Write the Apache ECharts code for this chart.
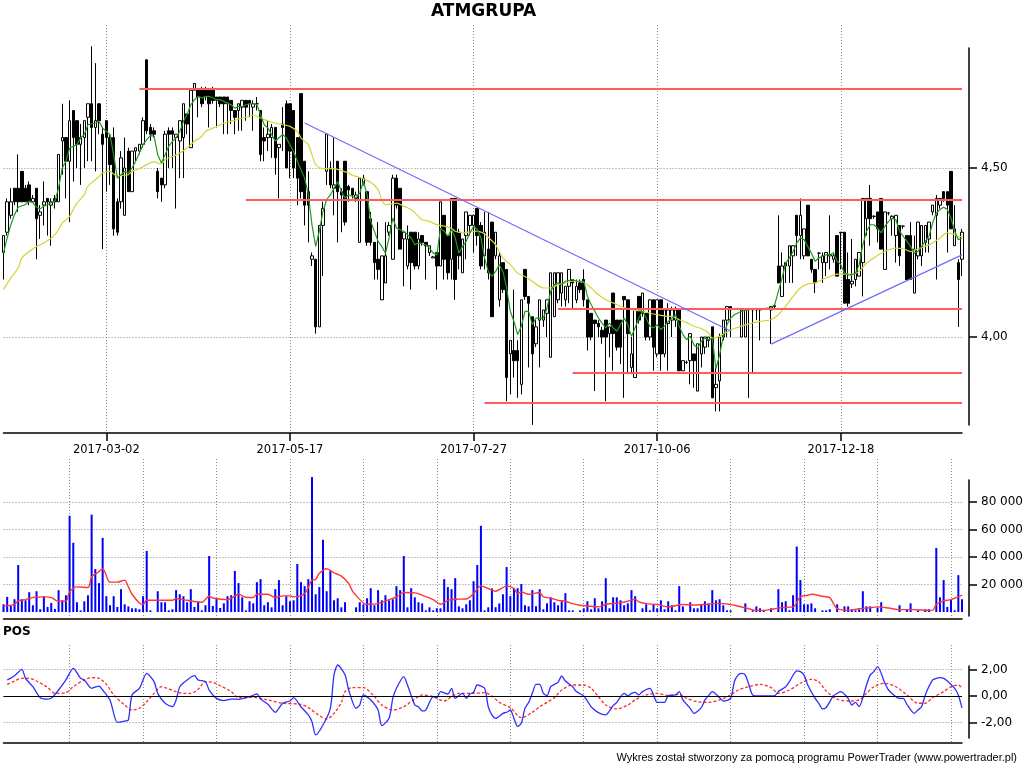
<!DOCTYPE html>
<html><head><meta charset="utf-8">
<script src="https://cdn.jsdelivr.net/npm/echarts@6/dist/echarts.min.js"></script>
<style>html,body{margin:0;padding:0;background:#fff}#c{width:1024px;height:768px}</style>
</head><body><div id="c"></div>
<script>
const labelIdx = [28, 78, 128, 178, 228];
const labelText = ['2017-03-02','2017-05-17','2017-07-27','2017-10-06','2017-12-18'];
const volGridIdx = [18,38,58,78,98,118,138,158,178,198,218,238,258];
const priceTicks = [4.0, 4.5];
const volTicks = [20000, 40000, 60000, 80000];
const posTicks = [-2, 0, 2];

const opens = [
4.25,4.31,4.36,4.44,4.44,4.49,4.44,4.45,4.40,4.44,
4.36,4.39,4.41,4.39,4.41,4.40,4.58,4.59,4.52,4.67,
4.64,4.57,4.59,4.65,4.69,4.62,4.69,4.60,4.64,4.59,
4.59,4.40,4.40,4.36,4.55,4.43,4.55,4.55,4.57,4.82,
4.62,4.61,4.49,4.47,4.45,4.61,4.61,4.59,4.58,4.59,
4.66,4.56,4.73,4.73,4.73,4.73,4.73,4.73,4.71,4.71,
4.71,4.71,4.70,4.67,4.67,4.68,4.70,4.70,4.68,4.69,
4.67,4.59,4.59,4.59,4.62,4.56,4.63,4.69,4.69,4.67,
4.59,4.72,4.52,4.43,4.23,4.23,4.03,4.33,4.49,4.50,
4.44,4.52,4.43,4.52,4.445,4.44,4.41,4.28,4.45,4.43,
4.35,4.28,4.23,4.11,4.16,4.31,4.23,4.47,4.44,4.29,
4.21,4.31,4.31,4.21,4.30,4.28,4.25,4.234,4.25,4.21,
4.36,4.30,4.23,4.41,4.31,4.19,4.30,4.33,4.33,4.38,
4.33,4.24,4.26,4.34,4.24,4.11,4.22,4.20,3.95,3.96,
3.96,3.86,4.20,4.12,4.06,3.98,4.05,4.05,4.07,3.94,
4.06,4.11,4.13,4.11,4.15,4.17,4.11,4.16,4.17,4.11,
4.07,4.05,4.04,4.02,4.05,4.01,4.13,4.05,4.05,4.12,
4.11,3.91,3.88,4.12,4.07,4.07,4.00,4.11,3.95,4.11,
3.95,4.04,4.05,4.05,4.08,3.90,3.925,3.93,3.95,3.84,
3.95,3.97,3.99,4.03,3.85,3.87,4.00,4.05,4.09,4.084,
4.084,4.00,4.00,4.084,4.08,4.08,4.08,4.084,4.084,4.08,
4.09,4.21,4.12,4.21,4.21,4.24,4.36,4.30,4.24,4.39,
4.23,4.20,4.248,4.22,4.22,4.24,4.23,4.30,4.31,4.31,
4.17,4.157,4.17,4.18,4.22,4.35,4.41,4.357,4.37,4.41,
4.20,4.367,4.35,4.30,4.33,4.328,4.30,4.30,4.13,4.24,
4.24,4.28,4.29,4.37,4.36,4.39,4.43,4.43,4.49,4.27,
4.22,4.23];
const closes = [
4.30,4.40,4.40,4.40,4.40,4.40,4.40,4.40,4.41,4.35,
4.37,4.40,4.40,4.40,4.40,4.54,4.59,4.52,4.64,4.59,
4.57,4.59,4.64,4.69,4.62,4.64,4.64,4.57,4.59,4.51,
4.32,4.31,4.53,4.50,4.43,4.55,4.56,4.57,4.64,4.61,
4.60,4.60,4.43,4.45,4.60,4.60,4.60,4.60,4.64,4.69,
4.63,4.73,4.75,4.71,4.69,4.71,4.69,4.70,4.70,4.69,
4.69,4.69,4.67,4.65,4.69,4.70,4.68,4.69,4.69,4.69,
4.54,4.58,4.60,4.62,4.53,4.57,4.62,4.50,4.55,4.50,
4.47,4.43,4.39,4.39,4.24,4.03,4.33,4.38,4.60,4.45,
4.45,4.43,4.42,4.34,4.435,4.42,4.42,4.47,4.47,4.28,
4.28,4.22,4.20,4.24,4.24,4.33,4.47,4.39,4.26,4.31,
4.29,4.22,4.21,4.29,4.28,4.27,4.27,4.237,4.21,4.40,
4.23,4.19,4.41,4.17,4.24,4.29,4.37,4.36,4.36,4.30,
4.21,4.31,4.19,4.06,4.31,4.24,4.14,3.88,3.99,3.93,
3.93,4.11,4.12,4.10,3.95,4.03,4.11,4.08,4.11,4.19,
4.19,4.19,4.19,4.15,4.20,4.16,4.15,4.14,4.11,4.00,
4.00,4.04,4.03,4.00,4.00,4.03,4.01,3.97,3.97,4.11,
4.01,3.95,4.08,4.05,4.13,4.00,4.11,3.97,4.11,3.95,
4.08,4.08,4.08,4.08,3.90,3.93,3.925,4.01,3.93,3.98,
4.00,4.00,4.00,3.82,3.86,4.00,4.05,4.09,4.08,4.084,
4.084,4.08,4.08,4.084,4.084,4.084,4.084,4.084,4.084,4.09,
4.093,4.16,4.21,4.22,4.27,4.27,4.30,4.36,4.32,4.24,
4.20,4.16,4.248,4.24,4.25,4.244,4.24,4.18,4.308,4.10,
4.10,4.165,4.23,4.25,4.41,4.41,4.35,4.357,4.32,4.26,
4.37,4.367,4.357,4.36,4.24,4.328,4.17,4.17,4.26,4.34,
4.33,4.33,4.34,4.39,4.41,4.41,4.41,4.39,4.32,4.32,
4.17,4.31];
const lows = [
4.17,4.30,4.35,4.39,4.37,4.40,4.40,4.39,4.40,4.23,
4.29,4.33,4.30,4.27,4.38,4.40,4.48,4.41,4.34,4.46,
4.50,4.45,4.50,4.52,4.52,4.49,4.60,4.26,4.43,4.45,
4.30,4.30,4.38,4.36,4.43,4.43,4.52,4.54,4.56,4.60,
4.58,4.59,4.41,4.40,4.44,4.50,4.50,4.38,4.47,4.47,
4.60,4.56,4.73,4.65,4.68,4.70,4.62,4.69,4.62,4.68,
4.60,4.60,4.63,4.60,4.61,4.61,4.64,4.65,4.61,4.67,
4.52,4.52,4.55,4.53,4.48,4.41,4.55,4.50,4.47,4.47,
4.39,4.41,4.33,4.28,4.21,4.01,4.03,4.18,4.45,4.44,
4.36,4.28,4.31,4.33,4.40,4.41,4.40,4.28,4.45,4.27,
4.27,4.17,4.17,4.11,4.16,4.30,4.23,4.38,4.26,4.15,
4.20,4.14,4.20,4.20,4.27,4.17,4.24,4.234,4.14,4.21,
4.17,4.17,4.17,4.11,4.20,4.19,4.23,4.30,4.25,4.27,
4.20,4.20,4.17,4.06,4.23,4.09,4.13,3.81,3.83,3.88,
3.82,3.83,4.11,3.91,3.74,3.97,3.91,4.03,4.00,3.94,
4.06,4.10,4.09,4.09,4.10,4.08,4.10,4.13,4.09,3.96,
3.99,3.84,4.00,3.98,3.81,3.94,3.90,3.96,3.92,3.82,
3.89,3.89,3.88,4.04,4.06,3.99,3.99,3.90,3.94,3.90,
3.94,3.90,4.00,4.03,3.90,3.90,3.92,3.86,3.85,3.84,
3.91,3.95,3.97,3.82,3.78,3.78,3.99,4.00,4.00,4.08,
4.08,4.00,4.00,3.82,3.89,4.05,3.99,4.08,4.08,3.98,
4.08,4.16,4.12,4.16,4.16,4.16,4.24,4.23,4.23,4.24,
4.19,4.13,4.20,4.16,4.18,4.20,4.22,4.18,4.20,4.10,
4.09,4.145,4.15,4.18,4.12,4.30,4.27,4.35,4.28,4.26,
4.20,4.36,4.30,4.22,4.21,4.32,4.17,4.17,4.13,4.23,
4.21,4.25,4.25,4.36,4.17,4.38,4.40,4.25,4.32,4.27,
4.03,4.18];
const highs = [
4.30,4.41,4.44,4.44,4.54,4.49,4.45,4.46,4.42,4.44,
4.39,4.46,4.41,4.41,4.42,4.54,4.69,4.59,4.70,4.67,
4.64,4.63,4.64,4.69,4.86,4.81,4.69,4.62,4.64,4.60,
4.62,4.41,4.55,4.59,4.56,4.55,4.56,4.57,4.65,4.82,
4.63,4.62,4.50,4.47,4.61,4.62,4.62,4.60,4.64,4.69,
4.66,4.73,4.75,4.73,4.74,4.74,4.73,4.74,4.71,4.71,
4.71,4.71,4.70,4.67,4.69,4.70,4.70,4.70,4.70,4.71,
4.67,4.62,4.64,4.63,4.62,4.57,4.68,4.70,4.69,4.67,
4.59,4.72,4.52,4.49,4.25,4.23,4.33,4.40,4.60,4.52,
4.59,4.52,4.44,4.52,4.45,4.44,4.43,4.47,4.48,4.43,
4.37,4.28,4.34,4.24,4.34,4.34,4.48,4.48,4.44,4.31,
4.33,4.31,4.31,4.31,4.30,4.28,4.27,4.24,4.25,4.40,
4.36,4.30,4.41,4.41,4.32,4.29,4.37,4.36,4.36,4.38,
4.34,4.37,4.37,4.34,4.31,4.25,4.22,4.20,3.99,4.14,
3.99,4.11,4.20,4.12,4.06,4.05,4.11,4.08,4.11,4.19,
4.19,4.19,4.19,4.15,4.20,4.17,4.17,4.17,4.20,4.11,
4.07,4.05,4.05,4.03,4.05,4.03,4.13,4.05,4.05,4.12,
4.11,4.00,4.08,4.12,4.13,4.07,4.11,4.11,4.11,4.11,
4.08,4.10,4.09,4.09,4.08,3.93,3.93,4.01,3.95,3.98,
4.00,4.00,4.00,4.03,3.91,4.01,4.05,4.09,4.09,4.086,
4.086,4.08,4.08,4.086,4.086,4.086,4.086,4.086,4.086,4.09,
4.095,4.36,4.25,4.22,4.27,4.27,4.36,4.41,4.32,4.39,
4.23,4.20,4.25,4.25,4.25,4.36,4.25,4.30,4.31,4.31,
4.25,4.29,4.23,4.25,4.41,4.41,4.45,4.36,4.37,4.41,
4.37,4.37,4.36,4.36,4.33,4.33,4.30,4.34,4.30,4.34,
4.33,4.33,4.34,4.39,4.42,4.41,4.43,4.43,4.49,4.39,
4.23,4.32];

const volumes = [
5600,11000,4400,9300,34200,9300,8500,14400,4900,15100,
2000,11500,3700,6600,2200,15900,8500,12200,70000,50300,
7100,1200,7800,12200,70800,31200,21000,53900,11500,4900,
11500,3700,16600,5600,4100,2700,2700,2000,11500,44400,
1200,0,15100,7100,7100,1200,2000,15900,12900,11500,
7100,16600,3700,7800,1200,4900,40700,4400,10000,2900,
6300,11500,12200,29800,21000,10700,1200,7800,6300,21700,
23900,4900,7100,3400,16600,23200,4900,11500,7800,8500,
34900,21700,18800,23900,98100,12900,18100,52500,15100,29800,
8500,10000,3400,7100,0,0,3400,7100,5600,10000,
17300,4900,15900,8500,12200,8500,9300,18800,15900,40700,
3400,17300,10700,7100,6300,1200,3400,1200,2700,2700,
23900,18100,16600,24600,4100,2700,5600,8500,22400,34200,
62700,1200,3400,17200,3500,6200,12900,32700,11500,17300,
17300,20300,4900,4100,15900,4100,16600,2000,6300,10700,
7100,4900,7800,13700,1200,1200,0,1200,2700,7800,
2000,10000,2700,7800,24600,2700,10700,10700,8500,4900,
6300,15900,11500,0,2700,5600,1200,5600,2700,8500,
2000,7800,4900,1200,18800,4100,0,7100,2700,2700,
5600,7800,6300,15900,8500,9300,4900,1200,1200,0,
0,0,6300,0,1200,4100,2700,1200,0,2700,
0,16600,7100,7800,1200,12200,47600,23200,5600,5600,
6300,2700,0,1200,1200,2000,0,5600,0,4100,
4100,2000,1200,2000,15100,4100,4100,0,3200,7100,
0,0,0,0,4900,0,2000,6300,0,1200,
0,2000,2000,0,46600,10700,23200,3700,9300,1200,
26800,9300];

const maShort = [[0,4.248],[1,4.293],[2,4.332],[3,4.362],[4,4.384],[6,4.392],[7,4.402],[8,4.397],[9,4.384],[10,4.379],[11,4.387],[12,4.392],[14,4.402],[15,4.441],[16,4.50],[17,4.52],[18,4.559],[20,4.569],[21,4.589],[22,4.599],[23,4.628],[25,4.633],[26,4.638],[27,4.618],[28,4.608],[29,4.599],[30,4.539],[31,4.47],[32,4.48],[33,4.49],[34,4.485],[35,4.50],[36,4.52],[38,4.569],[39,4.584],[40,4.596],[41,4.594],[42,4.539],[43,4.515],[44,4.539],[45,4.564],[46,4.579],[47,4.589],[48,4.608],[49,4.638],[50,4.658],[51,4.687],[52,4.702],[53,4.712],[54,4.707],[55,4.712],[56,4.712],[57,4.707],[58,4.702],[59,4.702],[60,4.697],[61,4.692],[62,4.687],[63,4.677],[64,4.682],[65,4.682],[66,4.687],[67,4.69],[68,4.69],[69,4.687],[71,4.628],[72,4.618],[73,4.599],[74,4.579],[76,4.599],[77,4.589],[79,4.549],[80,4.52],[82,4.47],[83,4.421],[84,4.332],[85,4.268],[86,4.313],[87,4.372],[88,4.406],[89,4.421],[91,4.46],[92,4.431],[93,4.411],[94,4.421],[96,4.411],[97,4.426],[98,4.46],[99,4.421],[100,4.342],[102,4.283],[103,4.268],[104,4.248],[105,4.293],[106,4.352],[107,4.322],[109,4.313],[110,4.303],[111,4.293],[112,4.273],[113,4.278],[115,4.273],[116,4.263],[117,4.248],[118,4.243],[119,4.322],[120,4.313],[121,4.298],[122,4.318],[123,4.293],[124,4.248],[125,4.268],[126,4.283],[127,4.308],[128,4.327],[129,4.318],[130,4.293],[131,4.234],[132,4.194],[133,4.179],[134,4.194],[135,4.214],[136,4.194],[137,4.145],[138,4.076],[139,4.046],[140,4.007],[141,4.032],[142,4.076],[143,4.076],[144,4.036],[145,4.056],[146,4.056],[147,4.056],[148,4.086],[149,4.135],[150,4.155],[151,4.16],[152,4.155],[153,4.165],[155,4.17],[156,4.165],[158,4.165],[159,4.12],[160,4.096],[161,4.076],[162,4.056],[163,4.041],[164,4.027],[165,4.041],[166,4.027],[167,4.017],[168,4.036],[169,4.056],[170,4.036],[171,4.002],[172,4.027],[173,4.056],[174,4.076],[175,4.056],[176,4.032],[177,4.027],[178,4.036],[179,4.022],[180,4.032],[181,4.046],[182,4.056],[183,4.066],[184,4.032],[185,4.007],[186,3.992],[187,4.002],[188,3.977],[189,3.967],[190,3.987],[191,3.997],[192,3.992],[193,3.997],[194,3.906],[195,3.948],[196,4.002],[197,4.036],[198,4.056],[199,4.066],[201,4.076],[203,4.081],[205,4.084],[207,4.084],[209,4.086],[210,4.096],[211,4.135],[212,4.174],[213,4.219],[214,4.234],[215,4.253],[216,4.278],[217,4.293],[218,4.288],[219,4.268],[220,4.248],[221,4.224],[222,4.234],[223,4.239],[224,4.243],[225,4.243],[226,4.248],[227,4.224],[228,4.214],[229,4.189],[230,4.184],[231,4.184],[232,4.189],[233,4.214],[234,4.273],[235,4.313],[236,4.332],[237,4.332],[238,4.322],[239,4.308],[240,4.327],[241,4.342],[242,4.352],[243,4.347],[244,4.313],[245,4.298],[246,4.283],[247,4.268],[248,4.248],[249,4.253],[250,4.268],[251,4.283],[252,4.298],[253,4.337],[254,4.367],[255,4.377],[256,4.384],[257,4.377],[258,4.352],[259,4.313],[260,4.288],[261,4.293]];

const maLong = [[0,4.14],[2,4.175],[4,4.204],[5,4.234],[7,4.253],[9,4.268],[11,4.278],[13,4.293],[14,4.303],[15,4.318],[16,4.337],[18,4.357],[19,4.377],[20,4.396],[22,4.421],[23,4.446],[25,4.465],[26,4.475],[27,4.485],[29,4.49],[30,4.482],[31,4.475],[32,4.478],[34,4.48],[35,4.49],[37,4.498],[39,4.51],[41,4.518],[43,4.512],[44,4.525],[46,4.534],[48,4.544],[50,4.559],[52,4.579],[54,4.594],[55,4.608],[57,4.618],[59,4.628],[61,4.636],[63,4.641],[64,4.645],[66,4.65],[68,4.656],[69,4.653],[71,4.643],[73,4.636],[74,4.633],[76,4.628],[78,4.623],[80,4.608],[81,4.589],[83,4.569],[84,4.539],[85,4.51],[87,4.498],[88,4.498],[90,4.498],[92,4.492],[94,4.485],[95,4.478],[97,4.472],[98,4.468],[100,4.458],[102,4.436],[103,4.406],[104,4.392],[106,4.394],[107,4.396],[109,4.387],[111,4.377],[113,4.357],[114,4.347],[116,4.342],[118,4.332],[120,4.328],[122,4.321],[123,4.313],[125,4.308],[127,4.311],[129,4.313],[131,4.305],[132,4.295],[134,4.273],[136,4.234],[138,4.214],[140,4.189],[142,4.179],[144,4.165],[147,4.145],[149,4.145],[151,4.155],[153,4.16],[155,4.165],[157,4.165],[159,4.155],[161,4.135],[162,4.125],[164,4.11],[166,4.101],[168,4.091],[170,4.084],[172,4.078],[173,4.078],[175,4.074],[177,4.068],[179,4.064],[181,4.061],[182,4.061],[184,4.051],[186,4.043],[188,4.032],[190,4.025],[192,4.012],[193,3.997],[195,4.002],[197,4.015],[199,4.025],[201,4.032],[203,4.039],[205,4.044],[207,4.048],[209,4.051],[211,4.066],[213,4.091],[215,4.12],[217,4.145],[219,4.157],[221,4.16],[223,4.17],[225,4.179],[227,4.186],[229,4.186],[231,4.186],[233,4.194],[235,4.219],[237,4.234],[239,4.248],[241,4.258],[243,4.263],[245,4.261],[247,4.253],[249,4.261],[251,4.268],[253,4.278],[255,4.293],[257,4.308],[259,4.303],[260,4.296],[261,4.298]];

const volMa = [[0,4400],[3,5600],[4,8100],[6,9000],[8,10500],[11,11000],[13,10500],[15,7800],[17,7800],[18,14600],[20,18300],[23,17800],[24,25600],[26,29300],[27,31500],[29,21700],[31,21700],[33,23200],[34,18300],[35,12900],[37,6600],[38,5600],[39,8500],[42,8500],[46,8500],[47,9800],[50,8500],[54,7100],[56,11500],[57,10200],[61,9000],[63,11500],[64,12900],[66,10700],[68,10500],[69,12900],[72,12900],[74,10500],[76,11700],[78,11700],[79,11000],[82,13400],[84,23200],[85,23700],[86,28100],[88,31500],[90,28500],[92,26100],[94,20700],[95,15400],[96,12000],[98,6600],[99,5600],[102,6100],[105,9000],[107,11000],[109,14200],[112,13900],[114,12200],[117,9000],[119,5600],[121,8500],[123,9300],[126,9500],[128,13400],[130,19000],[132,17100],[133,15900],[134,15100],[137,18800],[139,17100],[140,13400],[141,14600],[143,12900],[146,14200],[147,11000],[149,10200],[151,8500],[153,7800],[155,6100],[157,4900],[159,4400],[162,3700],[164,5600],[166,6100],[168,6800],[170,7800],[172,9300],[173,7300],[175,6100],[178,5400],[181,3700],[185,5400],[188,5100],[192,5600],[194,6300],[196,6100],[198,5400],[199,4900],[203,2400],[205,1200],[207,1200],[210,2400],[212,3200],[215,3700],[217,11000],[219,12200],[220,12900],[223,11500],[225,10500],[226,6100],[227,2400],[230,1200],[233,2400],[236,3200],[238,3700],[241,2900],[244,1700],[248,1700],[252,1200],[253,1200],[254,5600],[256,8100],[258,9000],[260,11000],[261,12200]];

const posLine = [[1,1.21],[3,1.53],[5,2.01],[6,1.33],[8,0.70],[10,-0.13],[12,-0.23],[13,-0.18],[15,0.45],[17,1.21],[19,2.09],[21,1.33],[22,1.21],[24,0.58],[26,0.75],[27,0.45],[29,-0.30],[31,-1.99],[33,-1.89],[34,-1.81],[35,0.08],[37,0.58],[39,1.71],[41,1.08],[42,0.20],[44,-0.55],[46,-0.81],[47,-0.30],[48,0.70],[50,1.21],[52,1.53],[53,1.21],[55,1.08],[56,0.45],[58,-0.18],[60,-0.35],[62,-0.23],[64,-0.25],[67,-0.05],[69,0.15],[70,-0.23],[72,-0.63],[74,-1.23],[76,-0.55],[78,-0.38],[79,-0.13],[81,-0.81],[83,-1.43],[84,-1.94],[85,-2.94],[87,-2.19],[89,-0.93],[90,1.58],[91,2.34],[93,1.58],[94,0.45],[96,-0.93],[97,-0.68],[98,0.08],[100,-0.30],[102,-1.06],[103,-2.24],[105,-1.69],[106,-0.18],[107,0.58],[109,1.46],[110,0.83],[112,-0.68],[113,-0.81],[114,-1.13],[115,-1.06],[117,-0.05],[118,-0.13],[119,0.33],[121,0.15],[122,0.58],[123,-0.18],[125,0.20],[126,-0.18],[127,0.15],[128,0.28],[129,0.83],[131,0.58],[132,-0.81],[133,-1.43],[134,-1.69],[136,-1.31],[137,-1.23],[138,-1.06],[139,-1.69],[140,-2.31],[141,-2.06],[142,-0.93],[143,-0.48],[144,0.20],[145,0.88],[146,0.88],[147,0.20],[148,0.03],[149,0.70],[150,0.88],[151,1.03],[152,1.51],[153,1.13],[155,0.70],[156,0.33],[158,0.00],[159,-0.38],[160,-0.81],[162,-1.26],[164,-1.43],[165,-1.13],[166,-0.73],[167,-0.48],[169,0.20],[170,0.00],[171,0.20],[172,0.28],[173,0.08],[174,0.33],[176,0.58],[177,0.08],[178,-0.48],[180,-0.48],[181,0.03],[183,0.08],[184,0.33],[185,-0.30],[187,-0.93],[188,-1.31],[190,-0.88],[191,-0.30],[192,0.03],[193,0.33],[195,-0.13],[196,-0.38],[198,-0.18],[199,1.08],[200,1.58],[201,1.71],[202,1.58],[203,0.83],[204,0.08],[206,0.00],[208,0.00],[210,0.03],[211,0.33],[213,0.70],[214,1.08],[216,1.89],[217,1.84],[218,1.58],[219,0.83],[221,-0.18],[222,-0.55],[223,-0.98],[224,-0.88],[226,0.03],[227,0.20],[228,0.33],[230,-0.18],[231,-0.68],[232,-0.48],[233,-0.81],[234,-0.13],[235,0.83],[236,1.58],[237,1.84],[238,2.21],[240,0.96],[241,0.45],[243,-0.05],[244,-0.18],[245,-0.18],[246,-0.63],[248,-1.31],[249,-1.06],[250,-0.81],[251,0.08],[253,1.21],[254,1.33],[255,1.38],[256,1.33],[257,1.13],[259,0.58],[260,0.08],[261,-0.9]];

const posSignal = [[1,0.88],[3,1.13],[5,1.33],[7,1.33],[9,1.13],[12,0.65],[14,0.20],[17,0.25],[19,0.70],[22,1.21],[24,1.38],[26,1.33],[28,0.88],[30,0.08],[33,-0.68],[35,-1.06],[37,-0.93],[39,-0.43],[41,0.20],[43,0.70],[44,0.63],[47,0.33],[49,0.20],[51,0.20],[53,0.50],[55,1.08],[57,1.03],[59,0.78],[62,0.33],[64,-0.13],[68,-0.10],[72,-0.30],[76,-0.55],[81,-0.63],[83,-0.88],[86,-1.48],[88,-1.74],[90,-1.31],[92,-0.48],[93,0.33],[95,0.63],[98,0.63],[101,-0.05],[103,-0.68],[106,-1.06],[109,-0.81],[112,-0.23],[114,0.08],[117,-0.05],[120,-0.38],[122,-0.05],[124,0.20],[128,0.20],[131,0.25],[133,0.00],[135,-0.48],[138,-0.88],[141,-1.64],[144,-1.23],[146,-0.81],[148,-0.48],[150,-0.13],[152,0.45],[155,0.83],[158,0.83],[160,0.58],[162,-0.05],[164,-0.68],[167,-0.98],[170,-0.68],[172,-0.30],[175,0.08],[178,0.20],[181,0.03],[184,0.13],[186,-0.18],[189,-0.43],[192,-0.48],[195,-0.30],[198,0.08],[200,0.45],[203,0.70],[206,0.88],[209,0.63],[211,0.20],[214,0.45],[217,0.96],[220,1.26],[222,1.08],[224,0.38],[227,-0.23],[230,-0.38],[233,-0.30],[235,0.20],[237,0.70],[240,0.96],[243,0.70],[246,0.08],[249,-0.55],[251,-0.55],[253,-0.13],[256,0.33],[258,0.70],[260,0.83],[261,0.58]];

// support/resistance levels: [start index, price]
const levels = [[37,4.734],[66,4.405],[151,4.083],[155,3.893],[131,3.805]];
// trend lines: [[start index, price], [end index, price]]
const trendLines = [[[82,4.633],[198,4.018]], [[209,3.979],[261,4.243]]];

const cats = opens.map((_, i) => String(i));
const candles = opens.map((o, i) => [o, closes[i], lows[i], highs[i]]);

const FONT = 'DejaVu Sans';
const dotted = {color:'#8a8a8a', type:[1,2], width:1};
const axisBlack = {color:'#000', width:1.5};
const fmtDec = v => v.toFixed(2).replace('.', ',');
const fmtTh = v => String(Math.round(v)).replace(/\B(?=(\d{3})+(?!\d))/g, ' ');
const isLbl = i => labelIdx.includes(i);
const isVg = i => volGridIdx.includes(i);

const subX = (g) => ({type:'category', gridIndex:g, data:cats, boundaryGap:false, position:'bottom',
  axisLine:{onZero:false, lineStyle:axisBlack}, axisTick:{show:false}, axisLabel:{show:false},
  splitLine:{show:true, interval:(i)=>isVg(i), lineStyle:dotted}});
// hidden x axes for the right-hand scale strips
const hidX = (g) => ({type:'value', gridIndex:g, show:false, min:0, max:1});
// value axes that only draw grid lines (scale of each panel)
const gridY = (g, min, max, ticks) => ({type:'value', gridIndex:g, position:'right', min, max,
  axisLine:{show:false}, axisTick:{show:false, customValues:ticks}, axisLabel:{show:false, customValues:ticks},
  splitLine:{show:true, lineStyle:dotted}});
// value axes that draw the right-hand scale line, ticks and labels
const scaleY = (g, min, max, ticks, fmt) => ({type:'value', gridIndex:g, position:'right', offset:7, min, max,
  axisLine:{show:true, onZero:false, lineStyle:axisBlack},
  axisTick:{show:true, length:8, customValues:ticks, lineStyle:{color:'#000', width:1.5}},
  axisLabel:{customValues:ticks, formatter:fmt, color:'#000', fontSize:12, margin:12, fontFamily:FONT},
  splitLine:{show:false}});

const option = {
  animation:false,
  backgroundColor:'#fff',
  textStyle:{fontFamily:FONT},
  title:[
    {text:'ATMGRUPA', left:431, top:3, padding:0, textStyle:{fontFamily:FONT, fontSize:17, fontWeight:'bold', color:'#000'}},
    {text:'POS', left:3, top:626, padding:0, textStyle:{fontFamily:FONT, fontSize:12, fontWeight:'bold', color:'#000'}},
    {text:'Wykres został stworzony za pomocą programu PowerTrader (www.powertrader.pl)', right:7, top:752, padding:0,
     textStyle:{fontFamily:'Liberation Sans', fontSize:11, fontWeight:'normal', color:'#000'}}
  ],
  grid:[
    {left:3.5, right:62, top:25, height:408, containLabel:false, outerBoundsMode:'none'},
    {left:3.5, right:62, top:459, height:160, containLabel:false, outerBoundsMode:'none'},
    {left:3.5, right:62, top:645, height:98, containLabel:false, outerBoundsMode:'none'},
    {left:3.5, right:62, top:48, height:377, containLabel:false, outerBoundsMode:'none'},
    {left:3.5, right:62, top:480, height:136, containLabel:false, outerBoundsMode:'none'},
    {left:3.5, right:62, top:666, height:72, containLabel:false, outerBoundsMode:'none'}
  ],
  xAxis:[
    {type:'category', gridIndex:0, data:cats, boundaryGap:false, position:'bottom',
     axisLine:{onZero:false, lineStyle:axisBlack},
     axisTick:{show:true, interval:(i)=>isLbl(i), length:8, lineStyle:{color:'#000', width:1.5}},
     axisLabel:{interval:(i)=>isLbl(i), formatter:(v,i)=>labelText[labelIdx.indexOf(i)] || '', color:'#000', fontSize:11.5, margin:11, fontFamily:FONT},
     splitLine:{show:true, interval:(i)=>isLbl(i), lineStyle:dotted}},
    subX(1), subX(2), hidX(3), hidX(4), hidX(5)
  ],
  yAxis:[
    gridY(0, 3.716, 4.923, priceTicks),
    gridY(1, -5091, 111273, volTicks),
    gridY(2, -3.55, 3.85, posTicks),
    scaleY(3, 3.7397, 4.855, priceTicks, fmtDec),
    scaleY(4, -2909, 96000, volTicks, fmtTh),
    scaleY(5, -3.172, 2.264, posTicks, fmtDec)
  ],
  series:[
    {type:'candlestick', xAxisIndex:0, yAxisIndex:0, data:candles, barWidth:3, clip:false,
     itemStyle:{color:'#fff', color0:'#000', borderColor:'#000', borderColor0:'#000', borderWidth:1},
     markLine:{silent:true, symbol:['none','none'], label:{show:false}, animation:false,
       data:[
         ...levels.map(([s,v]) => [{coord:[s,v], lineStyle:{color:'#ff5c5c', width:2, type:'solid'}}, {coord:[261,v]}]),
         ...trendLines.map(([a,b]) => [{coord:a, lineStyle:{color:'#6c6cff', width:1.2, type:'solid'}}, {coord:b}])
       ]}},
    {type:'line', xAxisIndex:0, yAxisIndex:0, data:maLong, symbol:'none', smooth:0.3,
     lineStyle:{color:'#d4d432', width:1.2}},
    {type:'line', xAxisIndex:0, yAxisIndex:0, data:maShort, symbol:'none',
     lineStyle:{color:'#1e9a1e', width:1.2}},
    {type:'bar', xAxisIndex:1, yAxisIndex:1, data:volumes, barWidth:2, clip:false,
     itemStyle:{color:'#0000ff'}},
    {type:'line', xAxisIndex:1, yAxisIndex:1, data:volMa, symbol:'none', smooth:0.3,
     lineStyle:{color:'#ff3636', width:1.4}},
    {type:'line', xAxisIndex:2, yAxisIndex:2, data:posSignal, symbol:'none', smooth:0.3,
     lineStyle:{color:'#ff2a2a', width:1.3, type:[3,2]}},
    {type:'line', xAxisIndex:2, yAxisIndex:2, data:posLine, symbol:'none', smooth:0.25,
     lineStyle:{color:'#2f2fff', width:1.3},
     markLine:{silent:true, symbol:['none','none'], label:{show:false}, animation:false,
       lineStyle:{color:'#000', width:1.2, type:'solid'}, data:[{yAxis:0}]}}
  ]
};
const chart = echarts.init(document.getElementById('c'), null, {renderer:'canvas'});
chart.setOption(option);
</script></body></html>
